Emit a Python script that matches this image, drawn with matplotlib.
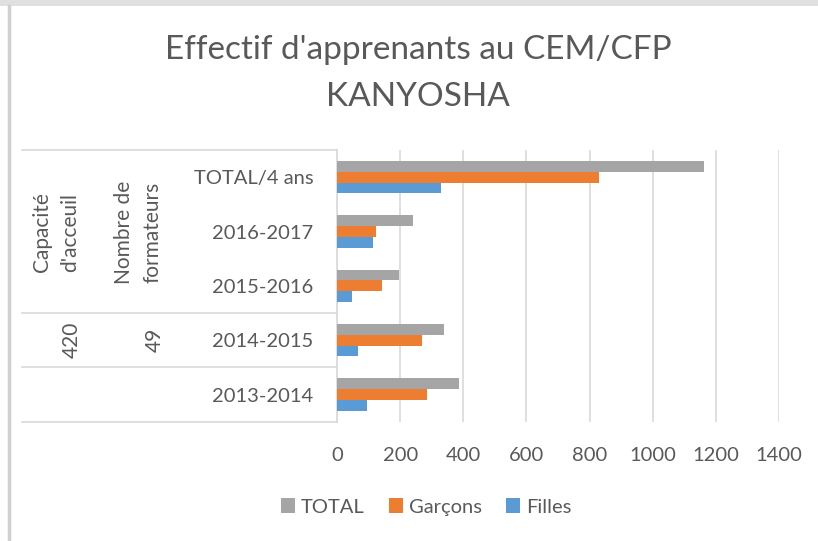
import matplotlib.pyplot as plt
from matplotlib.lines import Line2D
from matplotlib.patches import Rectangle
import numpy as np

# --- données ---
categories = ["2013-2014", "2014-2015", "2015-2016", "2016-2017", "TOTAL/4 ans"]
filles = [94, 66, 49, 114, 330]
garcons = [284, 268, 142, 123, 830]
total = [386, 338, 195, 241, 1163]
capacite_accueil = 420
nombre_formateurs = 49

W, H = 818, 541
TXT = "#595959"
GRID = "#D9D9D9"
COUL = {"TOTAL": "#A5A5A5", "Garçons": "#ED7D31", "Filles": "#5B9BD5"}

plt.rcParams['font.family'] = ['Lato', 'DejaVu Sans']


def fx(x):
    return x / W


def fy(y):
    return 1 - y / H


fig = plt.figure(figsize=(W / 100, H / 100), dpi=100)
fig.patch.set_facecolor("white")

# zone de tracé
ax = fig.add_axes([fx(337), fy(421.7), fx(779) - fx(337), fy(150) - fy(421.7)])

y = np.arange(len(categories))
h = 0.2
ax.barh(y + h, total, height=h, color=COUL["TOTAL"], label="TOTAL", zorder=3)
ax.barh(y, garcons, height=h, color=COUL["Garçons"], label="Garçons", zorder=3)
ax.barh(y - h, filles, height=h, color=COUL["Filles"], label="Filles", zorder=3)

ax.set_xlim(0, 1400)
ax.set_ylim(-0.5, len(categories) - 0.5)
ax.set_xticks(np.arange(0, 1401, 200))
ax.set_yticks(y)
ax.set_yticklabels(categories)
ax.tick_params(axis='y', length=0, pad=17, labelsize=14.5, labelcolor=TXT)
ax.tick_params(axis='x', length=0, pad=18, labelsize=14.5, labelcolor=TXT)
ax.grid(axis='x', color=GRID, linewidth=1.2, zorder=0)
for s in ["top", "right", "bottom"]:
    ax.spines[s].set_visible(False)
ax.spines["left"].set_color(GRID)
ax.spines["left"].set_linewidth(1.2)

# tableau à gauche (lignes + étiquettes)
for yy in [150, 312.7, 367.3, 421.7]:
    fig.add_artist(Line2D([fx(22), fx(337)], [fy(yy), fy(yy)], color=GRID, lw=1.2))

fig.text(fx(56), fy(232), "Capacité\nd'acceuil", rotation=90, ha="center", va="center",
         fontsize=15, color=TXT, linespacing=1.55)
fig.text(fx(138.5), fy(232), "Nombre de\nformateurs", rotation=90, ha="center", va="center",
         fontsize=15, color=TXT, linespacing=1.55)
fig.text(fx(72), fy(340), str(capacite_accueil), rotation=90, ha="center", va="center",
         fontsize=15, color=TXT)
fig.text(fx(154.5), fy(340), str(nombre_formateurs), rotation=90, ha="center", va="center",
         fontsize=15, color=TXT)

# titre
fig.text(fx(418), fy(50), "Effectif d'apprenants au CEM/CFP", ha="center", va="center",
         fontsize=24, color=TXT)
fig.text(fx(418), fy(97), "KANYOSHA", ha="center", va="center",
         fontsize=24, color=TXT)

# légende
handles, labels = ax.get_legend_handles_labels()
leg = fig.legend(handles, labels, loc="center", bbox_to_anchor=(fx(426), fy(507)), ncol=3,
                 frameon=False, fontsize=14.5, handlelength=0.7, handleheight=0.7,
                 handletextpad=0.3, columnspacing=1.2)
for t in leg.get_texts():
    t.set_color(TXT)

# bordure du graphique
fig.add_artist(Rectangle((0, fy(6)), 1, 1 - fy(6), transform=fig.transFigure, color="#E0E0E0", lw=0))
fig.add_artist(Line2D([fx(8.5), fx(8.5)], [0, fy(6)], color="#D0D0D0", lw=2.5))

fig.savefig("out.png", dpi=100)
